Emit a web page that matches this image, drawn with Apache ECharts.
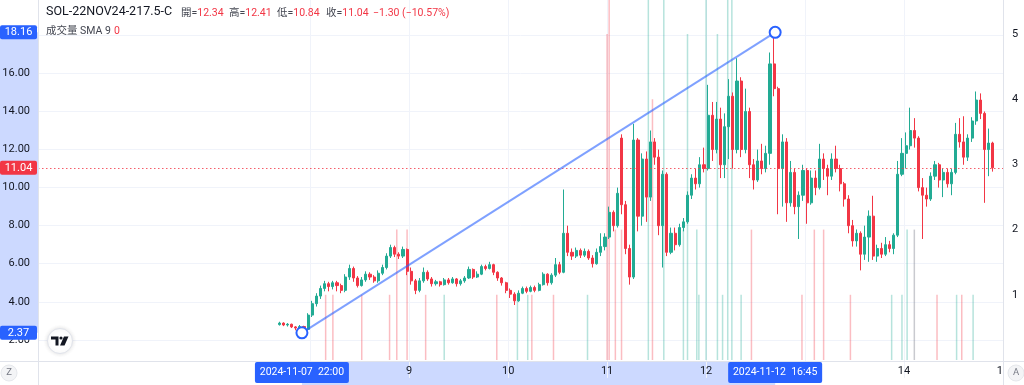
<!DOCTYPE html>
<html><head><meta charset="utf-8">
<script src="https://cdn.jsdelivr.net/npm/echarts@6/dist/echarts.min.js"></script>
<style>html,body{margin:0;padding:0;background:#fff}#c{width:1024px;height:385px}</style>
</head><body><div id="c"></div>
<script>
// ---------------- data ----------------
const symbolName = 'SOL-22NOV24-217.5-C';
const lastOHLC = [12.34, 12.41, 10.84, 11.04];      // open, high, low, close of last bar
const lastChange = ['−1.30', '(−10.57%)'];
const lastPrice = 11.04;
const axisStart = '2024-11-05 06:00';               // first 15-min slot of the x axis
const axisEnd = '2024-11-15 00:00';                 // last 15-min slot of the x axis
const candleStart = '2024-11-07 16:00';             // hourly candles from here
// hourly candles: [open, close, low, high]
const candles = [
[2.80,2.88,2.75,2.95],[2.88,2.78,2.72,2.92],[2.78,2.82,2.70,2.88],[2.82,2.68,2.62,2.85],
[2.68,2.62,2.50,2.72],[2.62,2.70,2.55,2.78],[2.70,2.55,2.37,2.74],[2.55,3.30,2.50,3.40],
[3.30,3.90,3.20,4.05],[3.90,4.30,3.75,4.45],[4.30,4.70,4.15,4.85],[4.70,4.95,4.55,5.10],
[4.95,4.80,4.55,5.05],[4.80,5.00,4.65,5.10],[5.00,4.85,4.55,5.10],[4.85,4.60,4.45,4.95],
[4.60,5.30,4.50,5.45],[5.30,5.75,5.15,5.95],[5.75,5.25,5.05,5.85],[5.25,4.85,4.75,5.35],
[4.85,5.15,4.80,5.30],[5.15,5.45,5.05,5.60],[5.45,5.30,5.15,5.55],[5.30,5.10,5.00,5.40],
[5.10,5.50,5.00,5.65],[5.50,5.80,5.40,5.95],[5.80,6.40,5.70,6.55],[6.40,6.85,6.30,7.00],
[6.85,6.50,6.35,6.95],[6.50,6.40,6.25,6.60],[6.40,6.75,6.30,6.90],[6.75,5.60,5.40,6.80],
[5.60,5.10,4.90,5.80],[5.10,4.60,4.40,5.20],[4.60,5.10,4.50,5.25],[5.10,5.55,5.00,5.80],
[5.55,5.20,5.10,5.65],[5.20,4.95,4.80,5.30],[4.95,5.05,4.85,5.15],[5.05,4.90,4.80,5.10],
[4.90,5.15,4.85,5.25],[5.15,5.00,4.90,5.25],[5.00,5.20,4.95,5.30],[5.20,4.95,4.80,5.25],
[4.95,5.10,4.85,5.20],[5.10,5.25,5.00,5.35],[5.25,5.70,5.20,5.85],[5.70,5.30,5.20,5.75],
[5.30,5.45,5.25,5.60],[5.45,5.85,5.40,5.95],[5.85,5.75,5.65,5.95],[5.75,5.95,5.70,6.10],
[5.95,5.55,5.40,6.00],[5.55,5.25,5.10,5.60],[5.25,5.00,4.85,5.30],[5.00,4.60,4.45,5.05],
[4.60,4.40,4.20,4.70],[4.40,4.05,3.83,4.50],[4.05,4.45,4.00,4.60],[4.45,4.70,4.40,4.80],
[4.70,4.55,4.45,4.80],[4.55,4.75,4.50,4.85],[4.75,4.60,4.50,4.85],[4.60,4.90,4.55,5.00],
[4.90,5.45,4.85,5.55],[5.45,5.00,4.85,5.50],[5.00,5.40,4.90,5.50],[5.40,5.95,5.30,6.30],
[5.95,5.55,5.45,6.10],[5.55,7.60,5.50,9.90],[7.60,6.60,6.40,8.00],[6.60,6.40,6.20,6.80],
[6.40,6.70,6.30,6.85],[6.70,6.45,6.30,6.80],[6.45,6.65,6.35,6.80],[6.65,6.30,6.20,6.75],
[6.30,6.00,5.80,6.45],[6.00,6.60,5.95,6.80],[6.60,6.90,6.40,7.60],[6.90,7.40,6.70,7.60],
[7.40,8.70,7.30,9.00],[8.70,8.00,7.70,8.80],[8.00,9.70,7.90,10.00],[12.60,9.10,8.60,12.80],
[9.10,6.80,6.50,9.30],[6.80,5.30,4.90,7.00],[5.30,12.50,5.20,13.35],[12.50,8.50,7.70,12.60],
[8.50,11.50,8.00,11.80],[11.50,9.50,8.20,11.90],[9.50,12.40,9.30,13.00],[12.40,11.60,11.20,12.60],
[11.60,8.00,7.50,12.00],[8.00,10.70,5.80,10.90],[10.70,6.60,6.40,10.80],[6.60,7.60,6.50,7.90],
[7.60,7.00,6.70,7.90],[7.00,7.90,6.90,8.10],[7.90,8.20,7.70,8.40],[8.20,9.60,8.10,9.80],
[9.60,10.50,9.40,10.70],[10.50,10.20,9.90,11.00],[10.20,11.20,10.00,11.60],[11.20,11.00,10.80,12.10],
[11.00,13.80,10.90,15.40],[13.80,12.00,11.40,14.50],[12.00,13.60,11.80,14.50],[13.60,11.20,10.50,14.20],
[11.20,13.20,10.50,13.90],[13.20,14.80,11.50,15.70],[14.80,12.00,11.00,15.00],[12.00,15.60,11.80,16.80],
[15.60,12.00,11.60,15.80],[12.00,14.00,11.80,15.20],[14.00,11.20,10.50,14.20],[11.20,10.40,9.90,11.50],
[10.40,11.40,10.30,12.00],[11.40,11.00,10.70,12.30],[11.00,11.80,10.80,12.20],[11.80,16.50,11.20,17.10],
[16.50,15.20,14.80,18.16],[15.20,11.00,8.60,15.30],[11.00,12.40,9.00,12.80],[12.40,9.20,8.20,12.60],
[9.20,10.80,9.00,11.40],[10.80,9.00,8.60,11.00],[9.00,9.60,7.30,9.80],[9.60,10.90,9.30,11.20],
[10.90,9.20,8.10,11.00],[9.20,10.50,9.10,10.90],[10.50,10.00,9.60,10.90],[10.00,11.50,9.90,12.30],
[11.50,11.00,10.40,11.80],[11.00,10.60,9.60,11.20],[10.60,11.50,10.40,11.80],[11.50,11.00,10.80,12.20],
[11.00,10.20,9.80,11.20],[10.20,9.40,9.00,10.30],[9.40,8.00,7.60,9.60],[8.00,7.20,6.90,8.30],
[7.20,7.60,6.90,7.80],[7.60,6.50,5.65,7.70],[6.50,7.40,6.20,8.00],[7.40,8.50,6.10,8.80],
[8.50,6.40,6.20,9.57],[6.40,6.80,6.10,7.00],[6.80,6.50,6.30,7.10],[6.50,7.00,6.40,7.40],
[7.00,6.80,6.60,7.20],[6.80,7.50,6.50,7.60],[7.50,10.70,7.40,11.40],[10.70,11.80,10.60,12.60],
[11.80,12.20,11.00,12.90],[12.20,13.00,12.00,14.20],[13.00,12.60,12.10,13.65],[12.60,10.00,9.80,12.70],
[10.00,9.60,7.30,10.50],[9.60,9.40,9.00,10.00],[9.40,10.60,9.30,10.80],[10.60,11.20,10.40,11.40],
[11.20,10.40,10.00,11.30],[10.40,10.80,9.50,11.00],[10.80,10.20,10.00,11.00],[10.20,10.80,9.60,11.00],
[10.80,12.80,10.70,13.40],[12.80,12.40,12.10,13.65],[12.40,11.60,11.20,13.75],[11.60,12.60,11.40,12.80],
[12.60,13.50,12.40,13.70],[13.50,14.60,13.30,15.05],[14.60,13.90,13.60,14.95],[13.90,12.00,9.20,14.00],
[12.00,12.34,10.60,13.10],[12.34,11.04,10.84,12.41]
];
// volume bars: [time, volume, direction (1 up, -1 down, 0 flat)]
const volumes = [
['2024-11-08 03:45',1,-1],['2024-11-08 05:30',1,-1],['2024-11-08 12:30',1,-1],['2024-11-08 19:15',1,-1],
['2024-11-08 21:00',2,-1],['2024-11-08 23:30',2,-1],['2024-11-09 04:00',1,-1],['2024-11-09 08:30',1,1],
['2024-11-09 21:15',1,-1],['2024-11-10 02:15',1,1],['2024-11-10 04:45',1,1],['2024-11-10 05:45',1,-1],
['2024-11-10 11:00',1,-1],['2024-11-10 19:15',1,1],['2024-11-11 00:00',5,-1],['2024-11-11 00:30',8,-1],
['2024-11-11 02:00',2,-1],['2024-11-11 03:30',2,-1],['2024-11-11 10:00',8,1],['2024-11-11 11:00',4,-1],
['2024-11-11 13:45',8,1],['2024-11-11 18:30',2,1],['2024-11-11 19:30',5,1],['2024-11-11 21:45',2,1],
['2024-11-11 22:15',1,1],['2024-11-12 00:00',8,1],['2024-11-12 02:45',5,1],['2024-11-12 04:00',1,1],
['2024-11-12 05:15',8,1],['2024-11-12 06:15',8,1],['2024-11-12 08:30',1,1],['2024-11-12 11:00',2,-1],
['2024-11-12 23:15',1,-1],['2024-11-13 02:15',2,-1],['2024-11-13 04:30',2,-1],['2024-11-13 11:00',1,-1],
['2024-11-13 21:00',1,1],['2024-11-13 23:30',1,1],['2024-11-14 00:45',2,1],['2024-11-14 02:30',2,0],
['2024-11-14 08:00',1,-1],['2024-11-14 12:45',1,1],['2024-11-14 14:00',1,-1],['2024-11-14 16:45',1,1]
];
// trend line drawing: [time, price]
const trendPoints = [['2024-11-07 22:00', 2.37], ['2024-11-12 16:45', 18.16]];
const trendLabels = ['2024-11-07  22:00', '2024-11-12  16:45'];

// ---------------- helpers ----------------
const FONT = 'Roboto, "Noto Sans CJK TC", "Noto Sans", sans-serif';
const UP = '#22ab94', DOWN = '#f23645', BLUE = '#2962ff', TXT = '#131722';
function toMs(s){const [d,t]=s.split(' ');const [Y,M,D]=d.split('-').map(Number);const [h,m]=t.split(':').map(Number);return Date.UTC(Y,M-1,D,h,m);}
function fmt(ms){const d=new Date(ms);const p=n=>String(n).padStart(2,'0');return d.getUTCFullYear()+'-'+p(d.getUTCMonth()+1)+'-'+p(d.getUTCDate())+' '+p(d.getUTCHours())+':'+p(d.getUTCMinutes());}
const SLOT = 15*60*1000;
const categories = [];
for (let t = toMs(axisStart); t <= toMs(axisEnd); t += SLOT) categories.push(fmt(t));
const slotOf = s => Math.round((toMs(s) - toMs(axisStart)) / SLOT);
const firstSlot = slotOf(candleStart);

const candleData = candles.map((c, i) => [firstSlot + i*4 + 2, c[0], c[1], c[2], c[3]]);
const volData = volumes.map(v => ({
  value: [slotOf(v[0]), v[1]],
  itemStyle: {color: v[2] > 0 ? 'rgba(34,171,148,0.33)' : (v[2] < 0 ? 'rgba(242,54,69,0.33)' : 'rgba(120,123,134,0.4)')}
}));
const trendData = trendPoints.map(p => [slotOf(p[0]), p[1]]);
const isDayTick = (i, v) => i >= firstSlot && v.slice(11) === '00:00';

const chart = echarts.init(document.getElementById('c'));
chart.setOption({
  animation: false,
  backgroundColor: '#fff',
  grid: [
    {left: 38, right: 21, top: -2.7, bottom: 7.1, outerBoundsMode: 'none'},
    {left: 38, right: 21, top: -31.2, bottom: 25, outerBoundsMode: 'none'}
  ],
  xAxis: [
    {type: 'category', gridIndex: 0, data: categories, boundaryGap: false,
     axisLine: {show: false}, axisTick: {show: false}, axisLabel: {show: false},
     splitLine: {show: true, interval: isDayTick, lineStyle: {color: '#f0f3fa', width: 1}}},
    {type: 'category', gridIndex: 1, data: categories, boundaryGap: false,
     axisLine: {show: false}, axisTick: {show: false}, splitLine: {show: false},
     axisLabel: {interval: isDayTick, formatter: v => String(Number(v.slice(8, 10))),
                 color: TXT, fontSize: 11, fontFamily: FONT, margin: 6}}
  ],
  yAxis: [
    {type: 'value', gridIndex: 0, min: 0, max: 20, interval: 2, position: 'left',
     axisLine: {show: false}, axisTick: {show: false},
     axisLabel: {formatter: v => (v >= 2 && v <= 16) ? v.toFixed(2) : '', color: TXT, fontSize: 11, fontFamily: FONT, margin: 8},
     splitLine: {show: true, showMinLine: false, showMaxLine: false, lineStyle: {color: '#f0f3fa'}}},
    {type: 'value', gridIndex: 1, min: 0, max: 6, interval: 1, position: 'right',
     axisLine: {show: false}, axisTick: {show: false}, splitLine: {show: false},
     axisLabel: {formatter: v => (v >= 1 && v <= 5) ? String(v) : '', color: TXT, fontSize: 11, fontFamily: FONT, margin: 9}}
  ],
  series: [
    {type: 'bar', xAxisIndex: 1, yAxisIndex: 1, data: volData, barWidth: 1.5, z: 1, silent: true},
    {type: 'candlestick', xAxisIndex: 0, yAxisIndex: 0, data: candleData, encode: {x: 0, y: [1, 2, 3, 4]},
     barWidth: 2.6, z: 3, silent: true,
     itemStyle: {color: UP, color0: DOWN, borderColor: UP, borderColor0: DOWN, borderWidth: 1},
     markLine: {silent: true, symbol: ['none', 'none'], label: {show: false},
                lineStyle: {color: DOWN, type: [1.5, 2.5], width: 1, opacity: 0.8}, data: [{yAxis: lastPrice}]}},
    {type: 'line', xAxisIndex: 0, yAxisIndex: 0, data: trendData, showAllSymbol: true, symbol: 'circle', symbolSize: 11,
     z: 6, silent: true, itemStyle: {color: '#fff', borderColor: BLUE, borderWidth: 2},
     lineStyle: {color: 'rgba(41,98,255,0.6)', width: 2}}
  ]
});

// ---------------- overlay decorations ----------------
const xA = chart.convertToPixel({xAxisIndex: 1}, trendData[0][0]);
const xB = chart.convertToPixel({xAxisIndex: 1}, trendData[1][0]);
const yA = chart.convertToPixel({yAxisIndex: 0}, trendData[0][1]);
const yB = chart.convertToPixel({yAxisIndex: 0}, trendData[1][1]);
const yL = chart.convertToPixel({yAxisIndex: 0}, lastPrice);
function txt(text, x, y, fill, size, align, z, weight){
  return {type: 'text', z: z, silent: true, style: {text: text, x: x, y: y, fill: fill, fontSize: size, fontFamily: FONT,
    fontWeight: weight || 'normal', align: align, verticalAlign: 'middle', textAlign: align, textVerticalAlign: 'middle'}};
}
function box(x, y, w, h, fill, z){return {type: 'rect', z: z, silent: true, shape: {x: x, y: y, width: w, height: h, r: 2}, style: {fill: fill}};}
function line(x1, y1, x2, y2, z){return {type: 'line', z: z, silent: true, shape: {x1: x1, y1: y1, x2: x2, y2: y2}, style: {stroke: '#e0e3eb', lineWidth: 1}};}
function kv(k, v, x){
  return {type: 'text', z: 40, silent: true, style: {text: '{k|' + k + '=}{v|' + v + '}', x: x, y: 13, verticalAlign: 'middle', textVerticalAlign: 'middle',
    rich: {k: {fill: '#434651', color: '#434651', fontSize: 10.5, fontFamily: FONT}, v: {fill: DOWN, color: DOWN, fontSize: 10.5, fontFamily: FONT}}}};
}
const band = 'rgba(41,98,255,0.24)';
const g = [
  {type: 'rect', z: -1, silent: true, shape: {x: 0, y: yB, width: 38, height: yA - yB}, style: {fill: band}},
  {type: 'rect', z: -1, silent: true, shape: {x: xA, y: 362, width: xB - xA, height: 23}, style: {fill: band}},
  {type: 'rect', z: 20, silent: true, shape: {x: 1004, y: 362, width: 20, height: 23}, style: {fill: '#fff'}},
  line(38.5, 0, 38.5, 385, 21), line(1003.5, 0, 1003.5, 385, 21), line(0, 361.5, 1024, 361.5, 21),
  {type: 'circle', z: 22, silent: true, shape: {cx: 9, cy: 373, r: 8}, style: {fill: '#f3f4f6', stroke: '#e6e8ec'}},
  txt('Z', 9, 373, '#787b86', 9.5, 'center', 23),
  {type: 'circle', z: 22, silent: true, shape: {cx: 1016, cy: 373, r: 8}, style: {fill: '#f3f4f6', stroke: '#e6e8ec'}},
  txt('A', 1016, 373, '#787b86', 9.5, 'center', 23),
  // price tags on left axis
  box(0, yB - 7, 37, 14, BLUE, 30), txt(trendData[1][1].toFixed(2), 18.5, yB, '#fff', 11, 'center', 31),
  box(0, yA - 7, 37, 14, BLUE, 30), txt(trendData[0][1].toFixed(2), 18.5, yA, '#fff', 11, 'center', 31),
  box(0, yL - 7, 37, 14, DOWN, 30), txt(lastPrice.toFixed(2), 18.5, yL, '#fff', 11, 'center', 31),
  // time tags on bottom axis
  box(xA - 47, 362, 94, 21, BLUE, 30), txt(trendLabels[0], xA, 372.5, '#fff', 10.5, 'center', 31),
  box(xB - 47, 362, 94, 21, BLUE, 30), txt(trendLabels[1], xB, 372.5, '#fff', 10.5, 'center', 31),
  // TradingView logo badge
  {type: 'circle', z: 30, silent: true, shape: {cx: 60, cy: 341, r: 12.5},
   style: {fill: '#fff', stroke: '#e0e3eb', shadowBlur: 4, shadowColor: 'rgba(0,0,0,0.12)'}},
  {type: 'polygon', z: 31, silent: true, shape: {points: [[51, 336.5], [58.5, 336.5], [58.5, 345.5], [55.5, 345.5], [55.5, 339.5], [51, 339.5]]}, style: {fill: TXT}},
  {type: 'circle', z: 31, silent: true, shape: {cx: 61, cy: 338, r: 1.6}, style: {fill: TXT}},
  {type: 'polygon', z: 31, silent: true, shape: {points: [[64, 336.5], [68.5, 336.5], [64.5, 345.5], [60, 345.5]]}, style: {fill: TXT}},
  // legend / header
  txt(symbolName, 46, 12, TXT, 12.5, 'left', 40),
  kv('開', lastOHLC[0].toFixed(2), 181), kv('高', lastOHLC[1].toFixed(2), 229),
  kv('低', lastOHLC[2].toFixed(2), 277), kv('收', lastOHLC[3].toFixed(2), 326),
  txt(lastChange[0] + ' ' + lastChange[1], 373, 13, DOWN, 10.5, 'left', 40),
  txt('成交量 SMA 9', 46, 31, '#434651', 10.5, 'left', 40),
  txt('0', 114, 31, DOWN, 10.5, 'left', 40)
];
chart.setOption({graphic: g});
</script>
</body></html>
